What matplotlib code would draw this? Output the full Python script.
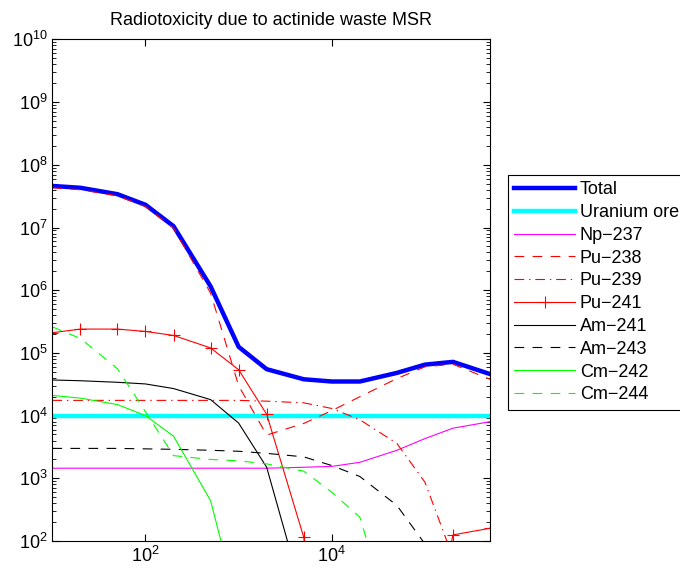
import matplotlib
matplotlib.use('Agg')
import matplotlib.pyplot as plt
import numpy as np

plt.rcParams['font.family'] = ['Liberation Sans', 'DejaVu Sans']
plt.rcParams['lines.scale_dashes'] = False

# time after discharge (years)
years = [10, 20, 50, 100, 200, 500, 1e3, 2e3, 5e3, 1e4, 2e4, 5e4, 1e5, 2e5, 5e5]

total = [4.6e7, 4.3e7, 3.4e7, 2.3e7, 1.05e7, 1.15e6, 1.25e5, 5.5e4, 3.8e4, 3.5e4, 3.5e4, 4.8e4, 6.5e4, 7.2e4, 4.6e4]
uranium_ore = [1e4] * len(years)
np237 = [1.45e3, 1.45e3, 1.45e3, 1.45e3, 1.45e3, 1.45e3, 1.45e3, 1.45e3, 1.5e3, 1.55e3, 1.8e3, 2.8e3, 4.3e3, 6.3e3, 8e3]
pu238 = [4.3e7, 4.0e7, 3.2e7, 2.15e7, 9.8e6, 9e5, 3e4, 4.9e3, 7.5e3, 1.2e4, 2e4, 3.9e4, 6e4, 6.6e4, 3.8e4]
pu239 = [1.75e4, 1.75e4, 1.75e4, 1.75e4, 1.75e4, 1.75e4, 1.75e4, 1.7e4, 1.6e4, 1.3e4, 8.6e3, 3.6e3, 8.7e2, 55, 1]
pu241 = [2.1e5, 2.4e5, 2.4e5, 2.2e5, 1.9e5, 1.2e5, 5.4e4, 1.05e4, 1.15e2, 1e-2, 1e-2, 1e-2, 1, 1.25e2, 1.6e2]
am241 = [3.7e4, 3.6e4, 3.4e4, 3.2e4, 2.7e4, 1.8e4, 7.6e3, 1.5e3, 12, 1e-2, 1e-2, 1e-2, 1e-2, 1e-2, 1e-2]
am243 = [3.0e3, 3.0e3, 3.0e3, 2.95e3, 2.9e3, 2.8e3, 2.7e3, 2.5e3, 2.2e3, 1.6e3, 1.07e3, 3.7e2, 90, 5, 1e-2]
cm242 = [2.1e4, 1.9e4, 1.5e4, 1.0e4, 4.7e3, 4.4e2, 8, 1e-2, 1e-2, 1e-2, 1e-2, 1e-2, 1e-2, 1e-2, 1e-2]
cm244 = [2.6e5, 1.7e5, 5.6e4, 1.15e4, 2.3e3, 2.0e3, 1.9e3, 1.7e3, 1.3e3, 6e2, 2.4e2, 2.7, 1e-2, 1e-2, 1e-2]

fig = plt.figure(figsize=(6.8, 5.71), dpi=100)
ax = fig.add_axes([0.077, 0.0525, 0.6436, 0.8785])

dash = (7, 6)
dashdot = (7, 3.5, 1, 3.5)
ax.plot(years, total, color='blue', lw=3.2, label='Total')
ax.plot(years, uranium_ore, color='cyan', lw=3.2, label='Uranium ore')
ax.plot(years, np237, color='magenta', lw=0.8, label='Np\u2212237')
ax.plot(years, pu238, color='red', lw=0.8, dashes=dash, label='Pu\u2212238')
ax.plot(years, pu239, color='red', lw=0.8, dashes=dashdot, label='Pu\u2212239')
ax.plot(years, pu241, color='red', lw=0.8, marker='+', ms=9, mew=0.8, label='Pu\u2212241')
ax.plot(years, am241, color='black', lw=0.8, label='Am\u2212241')
ax.plot(years, am243, color='black', lw=0.8, dashes=dash, label='Am\u2212243')
ax.plot(years, cm242, color='lime', lw=0.8, label='Cm\u2212242')
ax.plot(years, cm244, color='lime', lw=0.8, dashes=dash, label='Cm\u2212244')

ax.set_xscale('log')
ax.set_yscale('log')
ax.set_xlim(10, 5e5)
ax.set_ylim(1e2, 1e10)
ax.set_xticks([1e2, 1e4])
ax.xaxis.set_minor_locator(matplotlib.ticker.NullLocator())
ax.set_yticks([10.0 ** k for k in range(2, 11)])
ax.yaxis.set_minor_locator(matplotlib.ticker.LogLocator(base=10, subs=np.arange(2, 10), numticks=20))
ax.yaxis.set_minor_formatter(matplotlib.ticker.NullFormatter())
ax.tick_params(which='both', direction='in', top=True, right=True, labelsize=13)
ax.tick_params(which='major', length=5)
ax.tick_params(which='minor', length=3)
for s in ax.spines.values():
    s.set_linewidth(0.8)

ax.set_title('Radiotoxicity due to actinide waste MSR', fontsize=13, pad=10.5)

leg = ax.legend(loc='upper left', bbox_to_anchor=(0.747, 0.6935), bbox_transform=fig.transFigure,
                fontsize=13, handlelength=3.35, handletextpad=0.28, labelspacing=0.32,
                borderpad=0.35, borderaxespad=0, fancybox=False, framealpha=1, edgecolor='black')
leg.get_frame().set_linewidth(0.8)

plt.savefig('out.png', dpi=100)
